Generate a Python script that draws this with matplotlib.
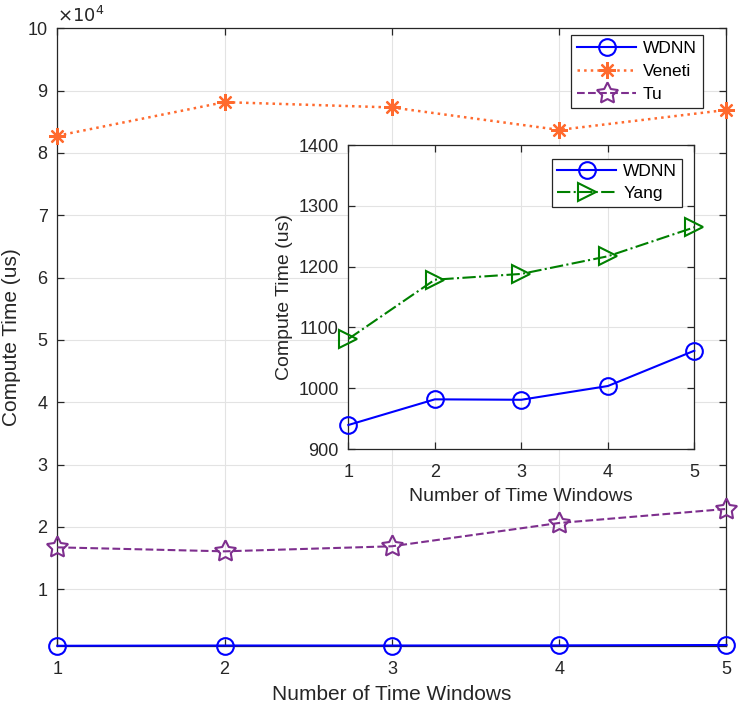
import numpy as np
import matplotlib as mpl
mpl.use('Agg')
import matplotlib.pyplot as plt

plt.rcParams['font.family'] = ['Liberation Sans', 'DejaVu Sans']

windows = [1, 2, 3, 4, 5]

# main plot (us)
wdnn = [939.5, 981.7, 981.0, 1003.6, 1061.7]
veneti = [82760, 88150, 87300, 83700, 86900]
tu = [16730, 16090, 16900, 20640, 22890]

# inset
yang = [1081, 1178.5, 1188, 1217, 1264.6]

main_yticks = [1e4, 2e4, 3e4, 4e4, 5e4, 6e4, 7e4, 8e4, 9e4, 1e5]
main_ylabels = ['1', '2', '3', '4', '5', '6', '7', '8', '9', '10']
inset_yticks = [900, 1000, 1100, 1200, 1300, 1400]

dark = '#262626'
gridc = '#e3e3e3'
c_wdnn = '#0000ff'
c_veneti = '#ff6a2e'
c_tu = '#7e2f8e'
c_yang = '#008000'


def style_axes(ax):
    ax.grid(True, color=gridc, linewidth=0.8)
    ax.set_axisbelow(True)
    for s in ax.spines.values():
        s.set_color(dark)
        s.set_linewidth(0.9)
    ax.tick_params(direction='in', top=True, right=True, colors=dark,
                   labelsize=13, length=5, width=0.9, pad=7)
    ax.tick_params(axis='x', pad=11)


fig = plt.figure(figsize=(7.38, 7.07), dpi=100)
ax = fig.add_axes([0.0776, 0.0866, 0.9068, 0.8734])

ax.plot(windows, wdnn, '-o', color=c_wdnn, lw=1.5, ms=12, mfc='none', mew=1.5,
        label='WDNN', clip_on=False, zorder=3)
ax.plot(windows, veneti, ':', marker=(8, 2, 0), color=c_veneti, lw=1.8, ms=12,
        mew=1.6, label='Veneti', clip_on=False, zorder=3)
ax.plot(windows, tu, '--', marker=(5, 1, 0), color=c_tu, lw=1.5, ms=16,
        mfc='none', mew=1.5, label='Tu', clip_on=False, zorder=3)

ax.set_xlim(1, 5)
ax.set_ylim(wdnn[0], 1e5)
ax.set_xticks(windows)
ax.set_yticks(main_yticks)
ax.set_yticklabels(main_ylabels)
style_axes(ax)
ax.set_xlabel('Number of Time Windows', fontsize=15, color=dark, labelpad=5)
ax.set_ylabel('Compute Time (us)', fontsize=15, color=dark)
ax.yaxis.set_label_coords(-0.054, 0.5)
ax.text(0.0, 1.004, r'$\times10^{4}$', transform=ax.transAxes, fontsize=13,
        color=dark, ha='left', va='bottom')

leg = ax.legend(loc='upper right', fontsize=12.5, fancybox=False, edgecolor=dark,
                framealpha=1, handlelength=3.4, borderpad=0.35, labelspacing=0.45,
                handletextpad=0.4, borderaxespad=0, bbox_to_anchor=(0.965, 0.989))
leg.get_frame().set_linewidth(0.9)

# inset
axi = fig.add_axes([0.472, 0.3649, 0.4688, 0.430])
axi.plot(windows, wdnn, '-o', color=c_wdnn, lw=1.5, ms=12, mfc='none', mew=1.5,
         label='WDNN', clip_on=False, zorder=3)
axi.plot(windows, yang, '-.>', color=c_yang, lw=1.5, ms=13, mfc='none', mew=1.5,
         label='Yang', clip_on=False, zorder=3)
axi.set_xlim(1, 5)
axi.set_ylim(900, 1400)
axi.set_xticks(windows)
axi.set_yticks(inset_yticks)
style_axes(axi)
axi.set_xlabel('Number of Time Windows', fontsize=14, color=dark, labelpad=5)
axi.set_ylabel('Compute Time (us)', fontsize=14, color=dark)
axi.yaxis.set_label_coords(-0.159, 0.5)
leg2 = axi.legend(loc='upper right', fontsize=12.5, fancybox=False, edgecolor=dark,
                  framealpha=1, handlelength=3.4, borderpad=0.3, labelspacing=0.4,
                  handletextpad=0.4, borderaxespad=0, bbox_to_anchor=(0.965, 0.954))
leg2.get_frame().set_linewidth(0.9)

fig.savefig('out.png', dpi=100)
